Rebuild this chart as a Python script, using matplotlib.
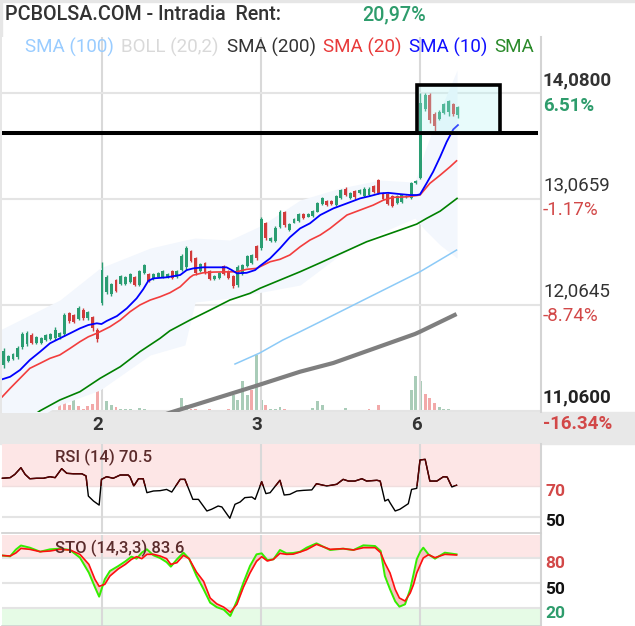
import numpy as np
import matplotlib
matplotlib.use("Agg")
import matplotlib.pyplot as plt
from matplotlib.patches import Rectangle
from matplotlib.transforms import blended_transform_factory

plt.rcParams['font.family'] = ['Roboto', 'DejaVu Sans']

# ---------------- data ----------------
opens = [11.49, 11.53, 11.55, 11.57, 11.66, 11.69, 11.78, 11.70, 11.70, 11.73,
         11.74, 11.75, 11.76, 11.79, 11.99, 11.97, 11.93, 12.02, 11.94, 11.95,
         11.83, 12.08, 12.19, 12.17, 12.30, 12.26, 12.26, 12.28, 12.33, 12.25,
         12.37, 12.36, 12.31, 12.33, 12.33, 12.33, 12.39, 12.33, 12.40, 12.42,
         12.58, 12.51, 12.39, 12.46, 12.39, 12.31, 12.32, 12.43, 12.38, 12.34,
         12.25, 12.36, 12.43, 12.46, 12.62, 12.60, 12.84, 12.67, 12.67, 12.80,
         12.95, 12.78, 12.84, 12.86, 12.93, 12.90, 12.91, 12.95, 13.02, 13.05,
         13.05, 13.01, 13.08, 13.17, 13.08, 13.15, 13.13, 13.10, 13.11, 13.19,
         13.25, 13.13, 13.12, 13.10, 13.03, 13.04, 13.09, 13.08, 13.22, 13.27,
         13.93, 14.06, 13.88, 13.83, 13.89, 13.90, 13.97, 13.87]
highs = [11.65, 11.59, 11.61, 11.67, 11.81, 11.82, 11.80, 11.77, 11.76, 11.79,
         11.80, 11.85, 11.81, 11.99, 12.00, 11.98, 12.05, 12.03, 12.01, 11.96,
         11.84, 12.47, 12.35, 12.27, 12.31, 12.35, 12.34, 12.37, 12.34, 12.40,
         12.45, 12.37, 12.37, 12.38, 12.40, 12.37, 12.40, 12.40, 12.55, 12.62,
         12.59, 12.52, 12.46, 12.47, 12.40, 12.35, 12.38, 12.44, 12.40, 12.35,
         12.44, 12.45, 12.54, 12.55, 12.63, 12.90, 12.85, 12.71, 12.81, 12.97,
         12.96, 12.84, 12.89, 12.94, 12.94, 12.94, 12.97, 13.04, 13.09, 13.06,
         13.06, 13.11, 13.17, 13.18, 13.14, 13.16, 13.17, 13.18, 13.18, 13.20,
         13.26, 13.14, 13.13, 13.11, 13.11, 13.12, 13.11, 13.23, 13.25, 14.08,
         14.08, 14.08, 13.90, 13.92, 13.98, 14.01, 13.98, 13.95]
lows = [11.46, 11.52, 11.54, 11.55, 11.64, 11.67, 11.69, 11.69, 11.69, 11.72,
        11.73, 11.73, 11.74, 11.77, 11.89, 11.89, 11.92, 11.92, 11.92, 11.82,
        11.71, 12.06, 12.17, 12.15, 12.19, 12.25, 12.25, 12.27, 12.24, 12.24,
        12.36, 12.28, 12.30, 12.33, 12.32, 12.32, 12.31, 12.32, 12.39, 12.40,
        12.47, 12.35, 12.38, 12.36, 12.30, 12.30, 12.31, 12.35, 12.31, 12.22,
        12.23, 12.35, 12.42, 12.45, 12.49, 12.59, 12.68, 12.66, 12.66, 12.79,
        12.80, 12.77, 12.84, 12.85, 12.88, 12.90, 12.90, 12.95, 13.01, 13.00,
        13.01, 13.00, 13.07, 13.10, 13.07, 13.07, 13.12, 13.09, 13.10, 13.13,
        13.12, 13.06, 13.01, 12.99, 13.02, 13.03, 13.08, 13.07, 13.21, 13.26,
        13.91, 13.79, 13.72, 13.82, 13.88, 13.86, 13.86, 13.84]
closes = [11.63, 11.58, 11.60, 11.65, 11.79, 11.80, 11.70, 11.76, 11.75, 11.78,
          11.79, 11.83, 11.80, 11.97, 11.91, 11.90, 12.03, 11.94, 12.00, 11.84,
          11.74, 12.40, 12.33, 12.26, 12.20, 12.34, 12.33, 12.36, 12.25, 12.39,
          12.44, 12.29, 12.36, 12.37, 12.39, 12.36, 12.32, 12.39, 12.53, 12.60,
          12.48, 12.37, 12.45, 12.38, 12.31, 12.34, 12.37, 12.36, 12.32, 12.24,
          12.42, 12.44, 12.53, 12.54, 12.51, 12.88, 12.70, 12.70, 12.79, 12.95,
          12.82, 12.83, 12.88, 12.93, 12.89, 12.93, 12.96, 13.03, 13.08, 13.01,
          13.02, 13.10, 13.16, 13.11, 13.13, 13.09, 13.16, 13.17, 13.17, 13.14,
          13.13, 13.07, 13.02, 13.00, 13.10, 13.11, 13.10, 13.22, 13.24, 13.98,
          14.06, 13.82, 13.76, 13.90, 13.97, 14.00, 13.88, 13.94]

# volume in thousands, and whether the bar is drawn green
volumes = [50, 23, 23, 50, 90, 50, 23, 67, 17, 17,
           50, 23, 67, 90, 67, 157, 57, 33, 57, 83,
           283, 323, 107, 67, 50, 33, 33, 33, 23, 40,
           33, 23, 7, 7, 7, 5, 7, 7, 140, 73,
           33, 27, 17, 23, 33, 17, 7, 7, 33, 167,
           117, 307, 173, 223, 567, 123, 73, 33, 33, 50,
           33, 17, 23, 7, 17, 17, 40, 107, 73, 17,
           7, 7, 23, 40, 17, 17, 7, 17, 33, 7,
           67, 23, 17, 23, 23, 17, 23, 217, 357, 307,
           183, 140, 90, 50, 33, 33, 23, 17]
vol_up = [1, 1, 1, 1, 1, 0, 0, 1, 1, 1,
          1, 1, 0, 0, 0, 1, 0, 0, 0, 0,
          0, 1, 1, 1, 0, 1, 1, 1, 0, 1,
          1, 1, 1, 1, 1, 1, 1, 0, 1, 1,
          0, 0, 1, 1, 0, 1, 1, 1, 0, 1,
          1, 1, 1, 0, 1, 1, 0, 1, 1, 1,
          0, 1, 1, 1, 0, 0, 1, 1, 1, 1,
          1, 1, 1, 1, 0, 1, 1, 1, 0, 1,
          0, 0, 1, 0, 0, 0, 1, 1, 1, 1,
          0, 0, 0, 1, 1, 1, 0, 1]

day_starts = [21, 55, 89]
day_labels = ['2', '3', '6']

sma10_x = [-0.3, 1.4, 3.5, 5.6, 7.8, 9.9, 12.0, 14.2, 16.3, 18.1, 19.9, 20.9, 22.0,
           24.2, 26.3, 28.4, 29.8, 30.9, 32.0, 34.8, 37.7, 39.1, 40.5, 42.6, 47.6,
           48.7, 49.8, 51.9, 53.7, 54.7, 56.9, 59.0, 61.1, 63.3, 65.4, 67.6, 70.4,
           73.3, 76.1, 78.2, 80.4, 82.1, 84.6, 86.8, 88.2, 88.9, 90.3, 91.7, 93.2,
           94.6, 96.0, 97.0]
sma10 = [11.357, 11.381, 11.445, 11.540, 11.619, 11.699, 11.746, 11.794, 11.841,
         11.873, 11.889, 11.882, 11.911, 11.958, 12.031, 12.126, 12.212, 12.293,
         12.316, 12.326, 12.348, 12.395, 12.411, 12.421, 12.421, 12.395, 12.364,
         12.369, 12.395, 12.433, 12.506, 12.601, 12.706, 12.791, 12.839, 12.918,
         12.981, 13.029, 13.076, 13.098, 13.124, 13.129, 13.117, 13.108, 13.108,
         13.114, 13.219, 13.329, 13.471, 13.614, 13.732, 13.773]
sma20_x = [-0.3, 1.4, 3.5, 5.6, 7.8, 9.9, 12.0, 14.2, 16.3, 18.1, 19.9, 20.9, 22.7,
           24.9, 27.0, 29.1, 31.3, 33.4, 35.5, 37.7, 39.8, 40.5, 42.6, 44.8, 49.8,
           51.9, 54.0, 54.7, 56.9, 59.0, 61.1, 63.3, 65.4, 67.6, 69.7, 73.3, 76.1,
           78.9, 81.1, 83.2, 86.1, 88.9, 91.0, 93.2, 95.3, 96.7]
sma20 = [11.19, 11.271, 11.366, 11.461, 11.509, 11.556, 11.588, 11.651, 11.714,
         11.761, 11.794, 11.816, 11.856, 11.92, 11.999, 12.063, 12.11, 12.141,
         12.179, 12.236, 12.326, 12.347, 12.369, 12.376, 12.379, 12.402, 12.411,
         12.426, 12.474, 12.497, 12.538, 12.616, 12.68, 12.728, 12.791, 12.918,
         12.965, 13.012, 13.06, 13.086, 13.091, 13.108, 13.219, 13.297, 13.376,
         13.433]
sma50_x = [5.6, 7.8, 12.0, 16.3, 20.6, 24.9, 29.1, 33.4, 35.5, 39.8, 44.1, 48.3,
           52.6, 54.7, 59.0, 63.3, 67.6, 77.5, 84.6, 88.2, 90.3, 93.2, 96.8]
sma50 = [10.99, 11.058, 11.16, 11.239, 11.366, 11.476, 11.619, 11.746, 11.818,
         11.92, 12.015, 12.11, 12.174, 12.221, 12.30, 12.379, 12.464, 12.664,
         12.775, 12.832, 12.886, 12.955, 13.076]
sma100_x = [49.4, 54.7, 59.6, 63.3, 67.6, 76.1, 88.9, 96.7]
sma100 = [11.502, 11.607, 11.73, 11.809, 11.904, 12.094, 12.379, 12.585]
sma200_x = [34.5, 36.2, 53.3, 63.3, 70.4, 87.8, 88.9, 96.7]
sma200 = [11.024, 11.049, 11.286, 11.429, 11.512, 11.787, 11.809, 11.977]
boll_x = [-0.8, 12.0, 20.6, 31.3, 38.7, 40.9, 48.3, 55.2, 63.3, 71.8, 80.4, 87.8,
          90.0, 93.2, 96.8]
boll_up = [11.825, 12.11, 12.414, 12.604, 12.68, 12.699, 12.68, 12.823, 13.06,
           13.174, 13.25, 13.231, 13.535, 13.915, 14.295]
boll_lo = [10.78, 11.113, 11.255, 11.588, 11.683, 12.091, 12.129, 12.186, 12.253,
           12.538, 12.747, 12.889, 12.775, 12.633, 12.509]

rsi_x = [-0.3, 1.4, 2.4, 3.7, 4.6, 5.6, 7.1, 8.5, 9.9, 11.0, 12.4, 13.5, 14.9, 16.7,
         17.6, 18.1, 19.2, 20.4, 20.9, 22.0, 23.4, 24.9, 26.6, 27.0, 27.8, 28.8,
         29.8, 30.6, 32.0, 33.4, 34.8, 35.9, 37.7, 38.7, 40.4, 41.6, 43.4, 44.4,
         45.8, 46.6, 48.3, 49.4, 50.5, 51.5, 53.0, 53.7, 55.1, 56.0, 56.9, 59.0,
         59.9, 61.1, 62.6, 64.0, 65.8, 66.8, 69.0, 71.1, 72.5, 73.6, 75.0, 76.5,
         77.5, 79.7, 80.4, 80.9, 81.4, 82.1, 82.5, 83.6, 84.6, 86.4, 87.1, 88.2,
         88.9, 90.0, 91.0, 92.5, 93.9, 94.7, 95.7, 96.7]
rsi = [75.0, 75.4, 77.5, 81.8, 77.5, 74.7, 75.0, 75.0, 76.0, 75.4, 81.2, 78.2, 77.9,
       77.9, 76.5, 63.5, 60.3, 57.7, 74.3, 76.0, 75.0, 77.1, 77.1, 75.8, 70.0, 74.7,
       74.7, 65.7, 66.8, 67.0, 67.8, 66.1, 74.3, 74.3, 61.4, 61.4, 53.9, 55.0, 57.1,
       56.5, 49.2, 58.2, 59.7, 62.5, 62.9, 61.4, 72.8, 65.1, 65.7, 73.7, 64.2, 64.6,
       66.8, 67.2, 67.5, 71.5, 70.0, 71.1, 74.3, 73.2, 73.2, 74.7, 73.2, 73.7, 73.2,
       66.8, 60.3, 61.4, 59.2, 53.9, 55.0, 58.6, 67.8, 68.5, 86.8, 87.2, 73.2, 73.2,
       76.0, 75.8, 69.4, 70.5]

sto_x = [-0.3, 1.4, 2.6, 3.7, 5.6, 7.8, 9.9, 12.0, 14.2, 16.3, 18.2, 19.5, 20.4,
         21.6, 22.7, 24.5, 26.0, 27.3, 28.4, 29.5, 30.6, 32.0, 33.4, 34.8, 35.7,
         37.0, 38.4, 39.6, 41.2, 42.7, 44.1, 45.5, 47.0, 48.4, 49.8, 51.2, 52.6,
         54.0, 55.1, 56.3, 57.6, 59.0, 60.4, 61.8, 63.3, 64.7, 66.8, 69.7, 72.5,
         74.7, 76.8, 79.3, 80.5, 81.4, 82.5, 83.6, 84.5, 85.7, 86.8, 87.5, 88.2,
         89.0, 89.6, 90.7, 92.1, 94.2, 96.7]
sto_k = [83, 82, 90, 95, 92.4, 87.6, 90.4, 91.2, 89.6, 80.4, 62.4, 45, 33.6, 54.4,
         64.4, 70.4, 76, 81.6, 79.2, 86.4, 90.4, 83.2, 80, 75, 69.6, 78.4, 86.4,
         79.2, 58.4, 42.4, 26.4, 21, 18, 10.4, 28.4, 50.4, 70.4, 84.4, 85.6, 77.6,
         78.4, 89.6, 85.6, 86, 87.5, 92.4, 97.6, 89.6, 91.2, 89.6, 95.2, 94.4, 88.4,
         58.4, 42.4, 28, 21.6, 24.4, 42.4, 60, 78.4, 88, 92.4, 84.4, 79.2, 86.4, 84.4]
sto_d = [83, 82.4, 86, 91.5, 90.4, 87.6, 88.4, 90.4, 89.6, 84.4, 72.4, 54.4, 46,
         48.4, 58.4, 67, 72.4, 78.4, 81.6, 79.2, 84.4, 84.4, 82.4, 79.2, 72.4, 74.4,
         83.2, 79.2, 63, 52, 32, 25, 21, 15, 24.4, 45, 62, 76, 81.6, 76.4, 78.4,
         85.6, 84.4, 84.6, 87.2, 90, 96.4, 90.4, 91.2, 89.6, 92.4, 92.4, 86.4, 74,
         62, 42.4, 32, 28.4, 38, 48, 62, 72.4, 80, 84, 80.4, 84.4, 83.6]

price_ticks = [11.06, 12.0645, 13.0659, 14.08]
support = 13.699
box_x = (88.3, 105.98)
box_y = (13.699, 14.150)

# ---------------- figure ----------------
W, H = 635, 626
fig = plt.figure(figsize=(W / 100, H / 100), dpi=100)


def fx(px):
    return px / W


def fy(py):
    return 1 - py / H


GREEN = '#2a9d72'
RED = '#d13b3b'
GRID = '#e4e4e4'
VGRID = '#d9d9d9'

# background strips
fig.add_artist(Rectangle((0, fy(444)), 1, 32 / H, transform=fig.transFigure,
                         color='#e8e8e8', zorder=0))
fig.add_artist(Rectangle((0, fy(2)), 1, 2 / H, transform=fig.transFigure,
                         color='#e6e6e6', zorder=0))
fig.add_artist(Rectangle((0, fy(412)), 2 / W, 412 / H, transform=fig.transFigure,
                         color='#e6e6e6', zorder=0))

# ---- main price panel ----
ax = fig.add_axes([fx(2), fy(412), 539 / W, 375 / H])
ax_v = ax.twinx()
ax.set_zorder(2)
ax_v.set_zorder(1)
ax.patch.set_visible(False)
ax_v.patch.set_visible(True)
ax_v.patch.set_facecolor('white')

xlim = (-0.34, 114.73)
ax.set_xlim(*xlim)
ax.set_ylim(11.046, 14.61)
ax_v.set_ylim(0, 3750)

idx = np.arange(len(closes))
vcol = [('#a9ccb8' if u else '#f2a9a9') for u in vol_up]
ax_v.bar(idx, volumes, width=0.62, color=vcol, linewidth=0)

ax.set_yticks(price_ticks)
ax.grid(axis='y', color=GRID, lw=1.5)
ax.set_axisbelow(True)
for d in day_starts:
    ax.axvline(d, color=VGRID, lw=1.5, zorder=0.5)

ax.fill_between(boll_x, boll_lo, boll_up, color='#f3f7fd', lw=0, zorder=0.8)

o, h, l, c = map(np.array, (opens, highs, lows, closes))
col = np.where(c >= o, GREEN, RED)
ax.vlines(idx, l, h, colors=col, lw=1.0, zorder=3)
ax.bar(idx, np.maximum(np.abs(c - o), 0.01), bottom=np.minimum(o, c), width=0.62,
       color=col, lw=0, zorder=3)

ax.plot(sma200_x, sma200, color='#7f7f7f', lw=3.0, zorder=4, solid_capstyle='butt')
ax.plot(sma100_x, sma100, color='#8ccaf7', lw=1.1, zorder=4)
ax.plot(sma50_x, sma50, color='#008000', lw=1.2, zorder=4)
ax.plot(sma20_x, sma20, color='#f23d3d', lw=1.2, zorder=4)
ax.plot(sma10_x, sma10, color='#0000ff', lw=1.3, zorder=4)

ax.plot([xlim[0], 114.1], [support, support], color='black', lw=2.9, zorder=6,
        solid_capstyle='butt')
ax.add_patch(Rectangle((box_x[0], box_y[0]), box_x[1] - box_x[0], box_y[1] - box_y[0],
                       facecolor=(0.70, 0.96, 0.96, 0.3), edgecolor='black',
                       lw=2.6, zorder=6))

for a in (ax, ax_v):
    a.tick_params(left=False, right=False, bottom=False, top=False,
                  labelleft=False, labelright=False, labelbottom=False)
    for s in a.spines.values():
        s.set_visible(False)
ax.spines['right'].set_visible(True)
ax.spines['right'].set_color('#d4d4d4')
ax.spines['right'].set_linewidth(1.5)

# day labels in the grey strip
tr = blended_transform_factory(ax.transData, fig.transFigure)
for d, lab in zip(day_starts, day_labels):
    ax.text(d - 0.85, fy(425), lab, transform=tr, ha='center', va='center',
            fontsize=13.5, fontweight='bold', color='#333333')

# ---- RSI panel ----
ax_r = fig.add_axes([fx(2), fy(533), 539 / W, 89 / H], sharex=ax)
ax_r.set_ylim(39.7, 97.1)
ax_r.axhspan(70, 100, color='#fde6e6', lw=0, zorder=0)
ax_r.axhline(70, color='#f0dede', lw=1.0, zorder=0.5)
ax_r.axhline(50, color=GRID, lw=1.5, zorder=0.5)
for d in day_starts:
    ax_r.axvline(d, color=VGRID, lw=1.5, zorder=0.6)
ax_r.plot(rsi_x, rsi, color='black', lw=1.0, zorder=3)
hot = ax_r.plot(rsi_x, rsi, color='#5e0000', lw=1.0, zorder=3.1)[0]
hot.set_clip_path(Rectangle((-5, 70), 130, 40, transform=ax_r.transData))

# ---- STO panel ----
ax_s = fig.add_axes([fx(2), 0, 539 / W, 91 / H], sharex=ax)
ax_s.set_ylim(-1.6, 107.6)
ax_s.axhspan(80, 120, color='#fde6e6', lw=0, zorder=0)
ax_s.axhspan(-10, 20, color='#e6fbe6', lw=0, zorder=0)
for lvl in (80, 50, 20):
    ax_s.axhline(lvl, color=GRID, lw=1.5, zorder=0.5)
for d in day_starts:
    ax_s.axvline(d, color=VGRID, lw=1.5, zorder=0.6)
ax_s.fill_between(sto_x, sto_k, sto_d, color='#f6c3c3', lw=0, zorder=1)
ax_s.plot(sto_x, sto_k, color='#33ee00', lw=1.4, zorder=3)
ax_s.plot(sto_x, sto_d, color='#ff1010', lw=1.2, zorder=3.1)

for a in (ax_r, ax_s):
    a.tick_params(left=False, right=False, bottom=False, top=False,
                  labelleft=False, labelright=False, labelbottom=False)
    for s in a.spines.values():
        s.set_visible(False)
    a.spines['right'].set_visible(True)
    a.spines['right'].set_color('#d4d4d4')
    a.spines['right'].set_linewidth(1.5)
    a.spines['bottom'].set_visible(True)
    a.spines['bottom'].set_color('#d0d0d0')
    a.spines['bottom'].set_linewidth(1.2)

# ---------------- texts ----------------
fig.text(fx(5), fy(15), 'PCBOLSA.COM - Intradia  Rent:', fontsize=14.2, color='#333333',
         va='center', ha='left', fontweight='medium')
fig.text(fx(362), fy(15), '20,97%', fontsize=14.2, color='#2e9c6c', va='center',
         ha='left', fontweight='medium')

legend_items = [(25, 'SMA (100)', '#99ccff'), (121, 'BOLL (20,2)', '#d9d9d9'),
                (227, 'SMA (200)', '#333333'), (323, 'SMA (20)', '#e83a3a'),
                (409, 'SMA (10)', '#1010ff'), (494, 'SMA', '#2a8a2a')]
for px, txt, colr in legend_items:
    fig.text(fx(px), fy(47), txt, fontsize=13.5, color=colr, va='center', ha='left',
             zorder=10)

right_labels = [(80, '14,0800', '#333333', 'bold'), (106, '6.51%', '#2e9c6c', 'bold'),
                (185, '13,0659', '#333333', 'normal'), (210, '-1.17%', '#d24848', 'normal'),
                (291, '12,0645', '#333333', 'normal'), (316, '-8.74%', '#d24848', 'normal'),
                (397, '11,0600', '#222222', 'bold'), (424, '-16.34%', '#d24848', 'bold')]
for py, txt, colr, wt in right_labels:
    fig.text(fx(543), fy(py), txt, fontsize=13.5, color=colr, fontweight=wt,
             va='center', ha='left')

lower_labels = [(491, '70', '#d24848'), (522, '50', '#111111'), (563, '80', '#d24848'),
                (589, '50', '#111111'), (614, '20', '#2e9c6c')]
for py, txt, colr in lower_labels:
    fig.text(fx(545), fy(py), txt, fontsize=12.5, color=colr, fontweight='bold',
             va='center', ha='left')

fig.text(fx(55), fy(457), 'RSI (14) 70.5', fontsize=12, color='#5b2b2b',
         fontweight='medium', va='center', ha='left', zorder=10)
fig.text(fx(55), fy(548), 'STO (14,3,3) 83.6', fontsize=12, color='#5b2b2b',
         fontweight='medium', va='center', ha='left', zorder=10)

fig.savefig('out.png', dpi=100, facecolor='white')
